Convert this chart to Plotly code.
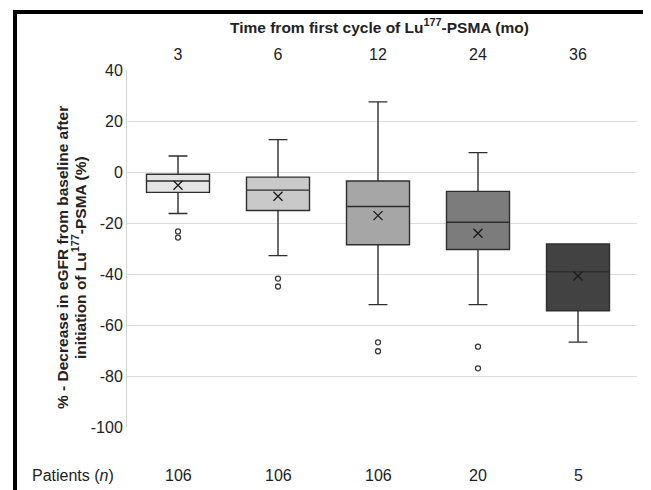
import plotly.graph_objects as go

categories = ["3", "6", "12", "24", "36"]
q1 = [-8.0, -15.1, -28.5, -30.4, -54.4]
median = [-3.5, -7.1, -13.5, -19.7, -39.1]
q3 = [-0.9, -2.0, -3.5, -7.6, -28.2]
lowerfence = [-16.3, -32.8, -52.0, -52.0, -66.7]
upperfence = [6.3, 12.7, 27.5, 7.6, -28.2]
means = [-5.2, -9.5, -17.1, -24.0, -40.8]
outlier_x = ["3", "3", "6", "6", "12", "12", "24", "24"]
outlier_y = [-23.3, -25.7, -41.8, -44.9, -66.8, -70.3, -68.5, -77.0]
patients = [106, 106, 106, 20, 5]
y_ticks = [40, 20, 0, -20, -40, -60, -80, -100]
fills = ["#e3e3e3", "#c9c9c9", "#a6a6a6", "#7c7c7c", "#424242"]

FONT = "Liberation Sans, Arial, sans-serif"
OFF = 8  # page body margin of the browser
WIN_W, WIN_H = 651, 490
PL, PR, PT, PB = 127, 637, 70, 427  # plot area in window pixels
W, H = WIN_W - OFF, WIN_H - OFF
L, R, T, B = PL - OFF, WIN_W - PR, PT - OFF, WIN_H - PB
PW, PH = PR - PL, PB - PT

fig = go.Figure()
for i, c in enumerate(categories):
    fig.add_trace(go.Box(
        x=[c], q1=[q1[i]], median=[median[i]], q3=[q3[i]],
        lowerfence=[lowerfence[i]], upperfence=[upperfence[i]],
        fillcolor=fills[i], line=dict(color="#2e2e2e", width=1.4),
        whiskerwidth=0.3, boxpoints=False, showlegend=False, hoverinfo="skip",
    ))

fig.add_trace(go.Scatter(
    x=categories, y=means, mode="markers",
    marker=dict(symbol="x-thin", size=9, line=dict(color="#1a1a1a", width=1.3)),
    showlegend=False, hoverinfo="skip",
))
fig.add_trace(go.Scatter(
    x=outlier_x, y=outlier_y, mode="markers",
    marker=dict(symbol="circle-open", size=5, color="#3a3a3a", line=dict(width=1.3)),
    showlegend=False, hoverinfo="skip",
))

def px_x(p):
    return (p - PL) / PW

def px_y(p):
    return (PB - p) / PH

annotations = []
annotations.append(dict(
    text="Patients (<i>n</i>)", x=px_x(30), y=px_y(475), xref="paper", yref="paper",
    xanchor="left", yanchor="middle", showarrow=False,
    font=dict(family=FONT, size=16, color="#222222"),
))
for i, n in enumerate(patients):
    annotations.append(dict(
        text=str(n), x=i, y=px_y(475), xref="x", yref="paper",
        xanchor="center", yanchor="middle", showarrow=False,
        font=dict(family=FONT, size=16, color="#222222"),
    ))
for line_text, cx in [("<b>% - Decrease in eGFR from baseline after</b>", 62),
                      ("<b>initiation of Lu<sup>177</sup>-PSMA (%)</b>", 79)]:
    annotations.append(dict(
        text=line_text, x=px_x(cx), y=px_y(258), xref="paper", yref="paper",
        textangle=-90, xanchor="center", yanchor="middle", showarrow=False,
        font=dict(family=FONT, size=15.5, color="#222222"),
    ))
annotations.append(dict(
    text="<b>Time from first cycle of Lu<sup>177</sup>-PSMA (mo)</b>",
    x=px_x(379), y=px_y(26), xref="paper", yref="paper",
    xanchor="center", yanchor="middle", showarrow=False,
    font=dict(family=FONT, size=15.5, color="#222222"),
))

# outer black frame drawn as filled bars (left, top, right)
shapes = []
for (a, b, c, d) in [(13, 17, 10, 500), (13, 648, 10, 14), (644, 648, 10, 500)]:
    shapes.append(dict(type="rect", xref="paper", yref="paper",
                       x0=px_x(a), x1=px_x(b), y0=px_y(d), y1=px_y(c),
                       fillcolor="black", line=dict(width=0), layer="above"))

fig.update_layout(
    width=W, height=H,
    margin=dict(l=L, r=R, t=T, b=B),
    paper_bgcolor="white", plot_bgcolor="white",
    boxmode="overlay", boxgap=0.1,
    annotations=annotations,
    shapes=shapes,
    xaxis=dict(
        type="category", side="top", range=[-0.51, 4.59],
        showgrid=False, showline=False, ticks="", ticklabelstandoff=6,
        tickfont=dict(family=FONT, size=16, color="#222222"),
    ),
    yaxis=dict(
        range=[-100, 40], tickvals=y_ticks, ticktext=[str(v) for v in y_ticks],
        showgrid=True, gridcolor="#dddddd", gridwidth=1,
        zeroline=False, showline=True, linecolor="#d4d4d4", linewidth=1,
        ticks="", tickfont=dict(family=FONT, size=16, color="#222222"),
    ),
)

fig.write_html("out.html")
